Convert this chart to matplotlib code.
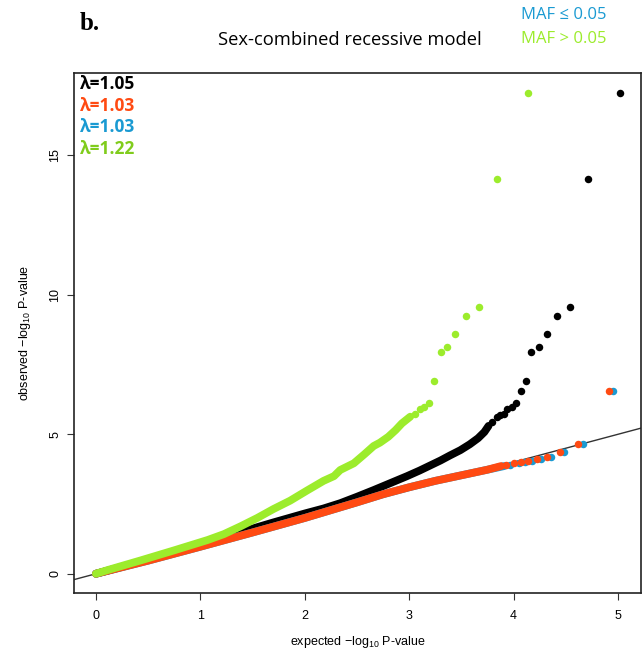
import matplotlib
matplotlib.use("Agg")
import matplotlib.pyplot as plt

# QQ plot, sex-combined recessive model
# dense part of each series is drawn as a thick band, the tail as single dots

# all SNPs
all_dense_x = [0.0, 0.5, 1.0, 1.5, 1.70, 2.0, 2.18, 2.34, 2.50, 2.66, 2.82, 2.98,
               3.10, 3.20, 3.30, 3.39, 3.49, 3.58, 3.66, 3.72, 3.76]
all_dense_y = [0.0, 0.5, 1.02, 1.62, 1.84, 2.16, 2.34, 2.53, 2.76, 3.0, 3.25, 3.50,
               3.70, 3.88, 4.06, 4.24, 4.43, 4.64, 4.86, 5.08, 5.30]
all_tail_x = [3.79, 3.84, 3.87, 3.91, 3.94, 3.98, 4.02, 4.07, 4.12, 4.17, 4.24,
              4.32, 4.42, 4.54, 4.71, 5.02]
all_tail_y = [5.45, 5.63, 5.69, 5.72, 5.91, 5.96, 6.11, 6.55, 6.92, 7.95, 8.14,
              8.58, 9.24, 9.55, 14.14, 17.25]

# second subset (red)
red_dense_x = [0.0, 0.5, 1.0, 1.5, 2.0, 2.5, 2.75, 3.0, 3.25, 3.5, 3.75, 3.88]
red_dense_y = [0.0, 0.47, 0.97, 1.48, 2.0, 2.56, 2.85, 3.10, 3.33, 3.53, 3.73, 3.86]
red_tail_x = [3.93, 4.0, 4.07, 4.14, 4.22, 4.32, 4.44, 4.62, 4.91]
red_tail_y = [3.90, 3.96, 4.00, 4.05, 4.10, 4.19, 4.35, 4.65, 6.55]

# MAF <= 0.05
low_dense_x = [0.0, 0.5, 1.0, 1.5, 2.0, 2.5, 2.75, 3.0, 3.25, 3.5, 3.75, 3.91]
low_dense_y = [0.0, 0.47, 0.97, 1.48, 2.0, 2.56, 2.85, 3.10, 3.33, 3.53, 3.73, 3.86]
low_tail_x = [3.97, 4.05, 4.11, 4.18, 4.26, 4.36, 4.48, 4.66, 4.95]
low_tail_y = [3.90, 3.96, 4.00, 4.05, 4.10, 4.19, 4.35, 4.65, 6.55]

# MAF > 0.05
high_dense_x = [0.0, 0.11, 0.43, 0.75, 1.07, 1.225, 1.385, 1.545, 1.70, 1.86, 2.02,
                2.18, 2.28, 2.34, 2.47, 2.57, 2.66, 2.72, 2.80, 2.87, 2.93, 3.01]
high_dense_y = [0.0, 0.13, 0.48, 0.84, 1.21, 1.42, 1.70, 2.0, 2.32, 2.62, 2.98,
                3.33, 3.50, 3.72, 3.96, 4.28, 4.58, 4.70, 4.91, 5.15, 5.39, 5.63]
high_tail_x = [3.06, 3.10, 3.14, 3.19, 3.24, 3.30, 3.36, 3.44, 3.54, 3.67, 3.84, 4.14]
high_tail_y = [5.72, 5.89, 5.96, 6.11, 6.92, 7.95, 8.14, 8.58, 9.24, 9.55, 14.14, 17.25]

lambdas = ["λ=1.05", "λ=1.03", "λ=1.03", "λ=1.22"]

BLACK = "#000000"
RED = "#ff4a12"
BLUE = "#1a9ad2"
GREEN = "#9cec2c"
GREEN_TXT = "#80cc1c"
lambda_colors = [BLACK, RED, BLUE, GREEN_TXT]

plt.rcParams["font.family"] = ["Liberation Sans", "DejaVu Sans"]
plt.rcParams["mathtext.fontset"] = "custom"
plt.rcParams["mathtext.rm"] = "Liberation Sans"
plt.rcParams["mathtext.it"] = "Liberation Sans"

W, H = 643, 658
fig = plt.figure(figsize=(W / 100, H / 100), dpi=100)
ax = fig.add_axes([74 / W, 1 - 593 / H, (641 - 74) / W, (593 - 73) / H])

ax.set_xlim(-0.21, 5.22)
ax.set_ylim(-0.69, 17.95)

# null line
ax.plot([-1, 6], [-1, 6], color="#333333", lw=1.0, zorder=1)

BAND = 5.6
MS = 5.4
for dx, dy, tx, ty, c, z in [
    (all_dense_x, all_dense_y, all_tail_x, all_tail_y, BLACK, 2),
    (low_dense_x, low_dense_y, low_tail_x, low_tail_y, BLUE, 3),
    (red_dense_x, red_dense_y, red_tail_x, red_tail_y, RED, 4),
    (high_dense_x, high_dense_y, high_tail_x, high_tail_y, GREEN, 5),
]:
    ax.plot(dx, dy, color=c, lw=BAND, solid_capstyle="round",
            solid_joinstyle="round", zorder=z)
    ax.plot(tx, ty, "o", color=c, ms=MS, mew=0, zorder=z)

ax.set_xticks([0, 1, 2, 3, 4, 5])
ax.set_yticks([0, 5, 10, 15])
ax.tick_params(direction="out", length=5, width=0.8, labelsize=9, color="#333333")
ax.tick_params(axis="x", pad=7)
ax.tick_params(axis="y", pad=4)
for lab in ax.get_yticklabels():
    lab.set_rotation(90)
    lab.set_va("center")
for sp in ax.spines.values():
    sp.set_linewidth(1.2)
    sp.set_color("#222222")

ax.set_xlabel("expected $-$log$_{10}$ P-value", fontsize=9)
ax.set_ylabel("observed $-$log$_{10}$ P-value", fontsize=9)
ax.xaxis.set_label_coords(0.5, (593 - 642) / 520)
ax.yaxis.set_label_coords((25 - 74) / 567, 0.5)
ax.xaxis.label.set_va("center")
ax.yaxis.label.set_va("center")

# lambda values, one per series
for i, (txt, c) in enumerate(zip(lambdas, lambda_colors)):
    fig.text(80 / W, 1 - (84 + 21.7 * i) / H, txt, color=c, fontsize=12.5,
             fontweight="bold", family=["Open Sans", "DejaVu Sans"],
             ha="left", va="center")

fig.text(90 / W, 1 - 23 / H, "b.", fontsize=18, fontweight="bold",
         family="Liberation Serif", ha="center", va="center")
fig.text(350 / W, 1 - 40 / H, "Sex-combined recessive model", fontsize=13.2,
         family=["Open Sans", "DejaVu Sans"], ha="center", va="center")
fig.text(521 / W, 1 - 15 / H, "MAF ≤ 0.05", color=BLUE, fontsize=12,
         family=["Open Sans", "DejaVu Sans"], ha="left", va="center")
fig.text(521 / W, 1 - 39 / H, "MAF > 0.05", color=GREEN, fontsize=12,
         family=["Open Sans", "DejaVu Sans"], ha="left", va="center")

fig.savefig("out.png", dpi=100)
